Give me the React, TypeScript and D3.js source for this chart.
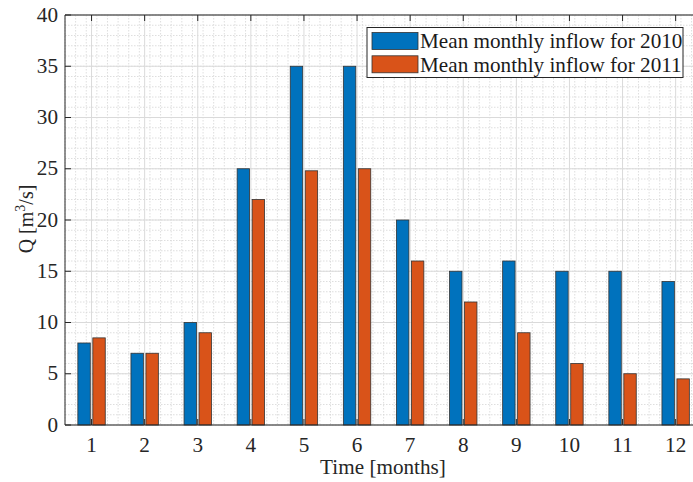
import React from "react";
import * as d3 from "d3";

const months = [1, 2, 3, 4, 5, 6, 7, 8, 9, 10, 11, 12];
const inflow2010 = [8, 7, 10, 25, 35, 35, 20, 15, 16, 15, 15, 14];
const inflow2011 = [8.5, 7, 9, 22, 24.8, 25, 16, 12, 9, 6, 5, 4.5];
const yTicks = [0, 5, 10, 15, 20, 25, 30, 35, 40];
const seriesNames = ["Mean monthly inflow for 2010", "Mean monthly inflow for 2011"];
const seriesColors = ["#0072BD", "#D95319"];

const W = 693;
const H = 482;
const M = { left: 65, top: 15, bottom: 425 };
const FONT = "'Liberation Serif', 'Times New Roman', Times, serif";
const SX = 1.06;

function T({ x, y, anchor, children, size = 20, fill = "#262626", dy }: any) {
  return (
    <g transform={`translate(${x},${y}) scale(${SX},1)`}>
      <text x={0} y={0} dy={dy} textAnchor={anchor} fontSize={size} fill={fill} style={{ fontFamily: FONT }}>
        {children}
      </text>
    </g>
  );
}

export default function App() {
  const x = d3.scaleLinear().domain([0.5, 12.5]).range([M.left, M.left + 12 * 53.1]);
  const y = d3.scaleLinear().domain([0, 40]).range([M.bottom, M.top]);
  const right = x(12.5);

  const minorX = d3.range(0.5, 12.5001, 0.2).map((v) => +v.toFixed(2));
  const minorY = d3.range(0, 40.001, 1);

  const barW = x(0.734) - x(0.5);
  const offs = [-0.141, 0.141];
  const series = [inflow2010, inflow2011];

  return (
    <svg width={W} height={H} style={{ position: "absolute", left: 0, top: 0, background: "#fff", fontFamily: FONT }}>
      <rect x={0} y={0} width={W} height={H} fill="#fff" />
      {minorX.map((v, i) => (
        <line key={"mx" + i} x1={x(v)} x2={x(v)} y1={M.top} y2={M.bottom} stroke="#d6d6d6" strokeWidth={0.8} strokeDasharray="1.5,1.5" />
      ))}
      {minorY.map((v, i) => (
        <line key={"my" + i} x1={M.left} x2={right} y1={y(v)} y2={y(v)} stroke="#d6d6d6" strokeWidth={0.8} strokeDasharray="1.5,1.5" />
      ))}
      {months.map((m) => (
        <line key={"gx" + m} x1={x(m)} x2={x(m)} y1={M.top} y2={M.bottom} stroke="#dadada" strokeWidth={1} />
      ))}
      {yTicks.map((t) => (
        <line key={"gy" + t} x1={M.left} x2={right} y1={y(t)} y2={y(t)} stroke="#dadada" strokeWidth={1} />
      ))}
      {series.map((vals, s) =>
        vals.map((v, i) => (
          <rect
            key={"b" + s + "-" + i}
            x={x(months[i] + offs[s]) - barW / 2}
            y={y(v)}
            width={barW}
            height={y(0) - y(v)}
            fill={seriesColors[s]}
            stroke="#333"
            strokeWidth={0.8}
          />
        ))
      )}
      <line x1={M.left} x2={right} y1={M.bottom} y2={M.bottom} stroke="#262626" strokeWidth={1} />
      <line x1={M.left} x2={right} y1={M.top} y2={M.top} stroke="#262626" strokeWidth={1} />
      <line x1={M.left} x2={M.left} y1={M.top} y2={M.bottom} stroke="#262626" strokeWidth={1} />
      {months.map((m) => (
        <g key={"tx" + m}>
          <line x1={x(m)} x2={x(m)} y1={M.bottom} y2={M.bottom - 6} stroke="#262626" />
          <line x1={x(m)} x2={x(m)} y1={M.top} y2={M.top + 6} stroke="#262626" />
          <T x={x(m)} y={452} anchor="middle">
            {m}
          </T>
        </g>
      ))}
      {yTicks.map((t) => (
        <g key={"ty" + t}>
          <line x1={M.left} x2={M.left + 6} y1={y(t)} y2={y(t)} stroke="#262626" />
          <T x={58} y={y(t)} dy="0.33em" anchor="end">
            {t}
          </T>
        </g>
      ))}
      <T x={383} y={474} anchor="middle">
        Time [months]
      </T>
      <text transform={`translate(33,219) rotate(-90)`} textAnchor="middle" fontSize={20} fill="#262626" style={{ fontFamily: FONT }}>
        Q [m<tspan dy="-8" fontSize={14}>3</tspan>
        <tspan dy="8">/s]</tspan>
      </text>
      <rect x={367} y={27.5} width={316} height={50} fill="#fff" stroke="#262626" strokeWidth={1} />
      {seriesNames.map((n, i) => (
        <g key={"lg" + i}>
          <rect x={372} y={32.5 + i * 23.3} width={46} height={17} fill={seriesColors[i]} stroke="#333" strokeWidth={0.8} />
          <T x={420} y={48.3 + i * 23.3} anchor="start" fill="#1a1a1a">
            {n}
          </T>
        </g>
      ))}
    </svg>
  );
}
